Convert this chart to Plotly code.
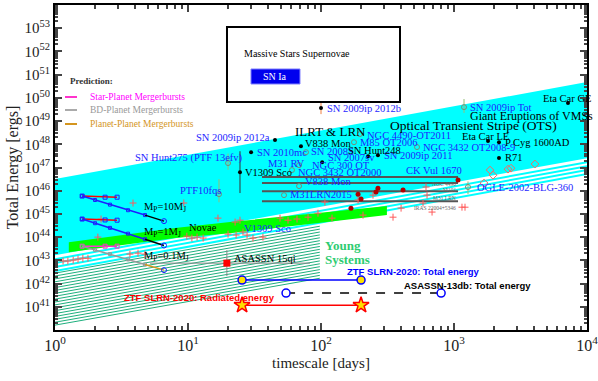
import numpy as np
import plotly.graph_objects as go

SERIF = "Liberation Serif"
SANS = "Liberation Sans"
BLUE = "#1e1eff"

# ---------------- data (timescale in days, energies as log10 erg) ----------------
x_decades = [0, 1, 2, 3, 4]
y_decades = list(range(40, 55))

# Optical Transient Stripe band
ots_t = [1, 1e4]
ots_top = [46.5, 50.68]
ots_bot = [43.22, 47.4]

# Young systems (hatched) region
young_t = [1, 98]
young_bot = [40.21, 42.23]
young_top = [42.45, 44.47]

# Novae band
novae_t = [1.27, 3.66, 7.99, 20.7, 69.5, 313]
novae_top = [43.78, 44.13, 44.39, 44.65, 44.95, 45.34]
novae_bot = [43.35, 43.70, 43.96, 44.17, 44.52, 44.95]

# mergerburst predictions
pred_t = [1.6, 2.0, 2.59, 3.54, 4.75, 6.6]
pred_10mj = [45.77, 45.60, 45.40, 45.16, 44.95, 44.69]
pred_1mj = [44.78, 44.60, 44.40, 44.15, 43.91, 43.64]
pred_01mj = [43.61, 43.45, 43.27, 43.04, 42.82, 42.58]
flat_t = [1.6, 2.38, 2.93]
flat_10mj = [45.77, 45.72, 45.72]
flat_1mj = [44.78, 44.74, 44.73]
flat_01mj = [43.61, 43.61, 43.61]

# ILRT/LRN duration bars
bar_t = [36, 1072]
bar_E = [46.59, 46.33, 45.98, 45.55]
bar_names = ["NGC 4490", "M101", "M31 LRN", "IRAS 22004+5346"]

# light red crosses
plus_t = [3.86, 9.3, 2.22, 16.8, 2.1, 10.7, 11.7, 13.0, 9.8, 20.0, 23.0, 1.15, 1.25, 1.37,
          1.49, 1.62, 1.77, 3.66, 4.21, 4.75, 25.9, 30.8, 36.6, 27.8, 49.2, 56.5, 66.0, 79.9,
          94.9, 107, 121, 190, 207, 246, 348, 400, 585, 627, 616, 1148, 1210, 684, 24.6, 22.6]
plus_E = [45.47, 45.47, 44.78, 44.82, 44.0, 43.96, 44.0, 43.96, 44.04, 44.13, 44.09, 42.97, 42.97, 43.01,
          43.05, 43.09, 43.09, 43.27, 43.31, 43.27, 44.22, 43.96, 44.0, 44.09, 44.82, 44.73, 44.78, 44.86,
          45.03, 45.51, 44.82, 45.60, 44.95, 45.81, 44.86, 45.25, 45.47, 45.81, 46.16, 45.29, 45.29, 45.08, 44.73, 44.65]

# open diamonds
diam_t = [1682, 1866, 1964, 2547, 2683, 4063]
diam_E = [46.33, 46.89, 46.67, 46.93, 46.97, 47.15]

# LRN peaks (dark red)
lrn_t = [168, 190, 200, 259, 268, 414, 1072]
lrn_E = [45.25, 45.85, 45.64, 45.94, 46.11, 46.03, 46.46]

# named events (black dots)
dot_t = [100, 7194, 45.1, 70.7, 29.8, 102, 226, 268, 24.6, 1802, 2179, 2179]
dot_E = [49.56, 49.78, 48.18, 47.92, 47.66, 47.23, 47.49, 47.53, 46.8, 48.14, 48.09, 47.41]

# named events (open circles)
circ_t = [1189, 196, 177, 77.1, 68.4, 60.5, 68.4, 52.7, 527, 17.1, 20.0, 1274]
circ_E = [49.60, 48.44, 48.09, 47.66, 47.10, 46.89, 46.20, 45.81, 47.88, 45.85, 47.19, 46.16]

# vertical error bars: t, low, high
err_t = [17.1, 20.0, 1274, 1189]
err_lo = [45.5, 46.9, 45.85, 49.35]
err_hi = [46.5, 47.6, 46.4, 49.95]

# ASASSN 15qi
q15_t = [19.6]
q15_E = [42.88]
q15_span = [5.18, 82.6]
q15_err = [42.32, 43.44]

# ZTF SLRN-2020 and ASASSN-13db
ztf_t = [25.5, 200]
ztf_total = [42.15, 42.15]
ztf_rad = [41.07, 41.07]
db13_t = [54.6, 800]
db13_total = [41.59, 41.59]

# text labels: text, log10 t, log10 E
labels_blue = [
    ("SN 2009ip 2012b", 2.030, 49.56), ("SN 2009ip Tot", 3.105, 49.60),
    ("NGC 4490-OT2011", 2.331, 48.40), ("M85 OT2006", 2.278, 48.09),
    ("SN 2008S", 1.910, 47.71), ("NGC 3432 OT2008-9", 2.752, 47.88),
    ("SN 2010mc", 1.504, 47.66), ("M31 RV", 1.586, 47.19),
    ("SN 2007sv", 2.038, 47.41), ("SN 2009ip 2011", 2.459, 47.53),
    ("NGC 300 OT", 1.917, 47.10), ("NGC 3432 OT2000", 1.812, 46.80),
    ("CK Vul 1670", 2.624, 46.89), ("V838 Mon", 1.865, 46.41),
    ("M31LRN2015", 1.752, 45.85), ("PTF10fqs", 0.925, 46.03),
    ("SN Hunt275 (PTF 13efv)", 0.586, 47.41), ("OGLE-2002-BLG-360", 3.158, 46.16),
    ("V1309 Sco", 1.406, 44.39),
]
labels_black = [
    ("Eta Car GE", 3.654, 49.99), ("V838 Mon", 1.865, 48.05),
    ("SN Hunt248", 2.188, 47.75), ("Eta Car LE", 3.045, 48.35),
    ("P Cyg 1600AD", 3.368, 48.09), ("R71", 3.368, 47.41),
    ("V1309 Sco", 1.414, 46.80), ("ASASSN 15qi", 1.331, 43.09),
    ("Novae", 0.992, 44.43),
    ("M<sub>P</sub>=10M<sub>J</sub>", 0.654, 45.29),
    ("M<sub>P</sub>=1M<sub>J</sub>", 0.654, 44.22),
    ("M<sub>P</sub>=0.1M<sub>J</sub>", 0.654, 43.18),
]


def E(v):
    return [10.0 ** a for a in v]


fig = go.Figure()


def line(x, y, color, width=1, dash=None, mode="lines", **kw):
    fig.add_trace(go.Scatter(x=x, y=y, mode=mode, line=dict(color=color, width=width, dash=dash),
                             hoverinfo="skip", showlegend=False, **kw))


# young systems hatch
n_hatch = 19
for k in range(n_hatch):
    f = k / (n_hatch - 1)
    yy = [b + f * (t - b) for b, t in zip(young_bot, young_top)]
    line(young_t, E(yy), "rgb(30,175,125)", 1)

# OTS band
fig.add_trace(go.Scatter(x=ots_t + ots_t[::-1], y=E(ots_top + ots_bot[::-1]), fill="toself",
                         fillcolor="#00ffff", line=dict(width=0), mode="lines",
                         hoverinfo="skip", showlegend=False))
for k in range(1, 5):
    line(ots_t, E([b - 0.17 * k for b in ots_bot]), "#00ffff", 2)

# novae band
fig.add_trace(go.Scatter(x=novae_t + novae_t[::-1], y=E(novae_top + novae_bot[::-1]), fill="toself",
                         fillcolor="#00ff00", line=dict(width=0), mode="lines",
                         hoverinfo="skip", showlegend=False))

# ILRT / LRN bars
for e in bar_E:
    line(bar_t, E([e, e]), "#555555", 2)
for name, e in zip(bar_names, bar_E):
    fig.add_annotation(x=np.log10(bar_t[1]), y=e - 0.08, text=name, showarrow=False, xanchor="right",
                       yanchor="top", font=dict(family=SERIF, size=5.5, color="#666666"))

# error bars
for t, lo, hi in zip(err_t, err_lo, err_hi):
    line([t, t], E([lo, hi]), "rgb(150,190,120)", 1)
line([24.6, 24.6], E([45.9, 47.7]), "#333333", 1)
line([100, 100], E([49.3, 49.9]), "#f08040", 1)

# markers
fig.add_trace(go.Scatter(x=plus_t, y=E(plus_E), mode="markers", hoverinfo="skip", showlegend=False,
                         marker=dict(symbol="cross-thin", size=5, line=dict(color="rgb(255,90,90)", width=1))))
fig.add_trace(go.Scatter(x=diam_t, y=E(diam_E), mode="markers", hoverinfo="skip", showlegend=False,
                         marker=dict(symbol="diamond-open", size=6, color="rgb(240,110,100)")))
fig.add_trace(go.Scatter(x=lrn_t, y=E(lrn_E), mode="markers", hoverinfo="skip", showlegend=False,
                         marker=dict(symbol="circle", size=5, color="#b00000")))
fig.add_trace(go.Scatter(x=circ_t, y=E(circ_E), mode="markers", hoverinfo="skip", showlegend=False,
                         marker=dict(symbol="circle-open", size=5, color="rgb(120,140,120)")))
fig.add_trace(go.Scatter(x=dot_t, y=E(dot_E), mode="markers", hoverinfo="skip", showlegend=False,
                         marker=dict(symbol="circle", size=4, color="black")))

# mergerburst predictions
line(flat_t, E(flat_10mj), "red", 1.5, mode="lines+markers",
     marker=dict(symbol="square-open", size=4, color=BLUE))
line(flat_t, E(flat_1mj), "red", 1.5, mode="lines+markers",
     marker=dict(symbol="square-open", size=4, color=BLUE))
line(flat_t, E(flat_01mj), "#ff33cc", 1.5, mode="lines+markers",
     marker=dict(symbol="square-open", size=4, color="#ff33cc"))
for track, c1, c2 in [(pred_10mj, "#1e1eff", "black"), (pred_1mj, "#1e1eff", "black"),
                      (pred_01mj, "#999999", "#d4951e")]:
    line(pred_t[:5], E(track[:5]), c1, 1.5, mode="lines+markers",
         marker=dict(symbol="square-open", size=3, color=c1))
    line(pred_t[4:], E(track[4:]), c2, 1.5)
    fig.add_trace(go.Scatter(x=pred_t[-1:], y=E(track[-1:]), mode="markers", hoverinfo="skip",
                             showlegend=False, marker=dict(symbol="circle-open", size=5, color=BLUE)))

# ASASSN 15qi
line(q15_span, E(q15_E * 2), "#888888", 1)
line(q15_t * 2, E(q15_err), "#888888", 1)
fig.add_trace(go.Scatter(x=q15_t, y=E(q15_E), mode="markers", hoverinfo="skip", showlegend=False,
                         marker=dict(symbol="square", size=7, color="red")))

# ZTF SLRN-2020 / ASASSN-13db
line(ztf_t, E(ztf_total), "blue", 1.5, mode="lines+markers",
     marker=dict(symbol="circle", size=8, color="#ffe000", line=dict(color="blue", width=1.5)))
line(db13_t, E(db13_total), "black", 1.5, dash="dash", mode="lines+markers",
     marker=dict(symbol="circle", size=8, color="white", line=dict(color="blue", width=1.5)))
line(ztf_t, E(ztf_rad), "red", 1.5, mode="lines+markers",
     marker=dict(symbol="star", size=12, color="#ffe000", line=dict(color="red", width=1.5)))


def label(text, lx, ly, color, size=10.5, anchor="left", family=SERIF):
    fig.add_annotation(x=lx, y=ly, text=text, showarrow=False, xanchor=anchor, yanchor="middle",
                       font=dict(family=family, size=size, color=color))


for text, lx, ly in labels_blue:
    label(text, lx, ly, BLUE)
label("SN 2009ip 2012a", 1.632, 48.31, BLUE, anchor="right")
for text, lx, ly in labels_black:
    label(text, lx, ly, "black")
label("Optical Transient Stripe (OTS)", 2.504, 48.83, "black", 13.5)
label("Giant Eruptions of VMSs", 3.105, 49.22, "black", 12)
label("ILRT &amp; LRN", 1.789, 48.53, "black", 13)
label("<b>Young</b>", 2.015, 43.66, "rgb(46,204,113)", 13)
label("<b>Systems</b>", 2.015, 43.05, "rgb(46,204,113)", 13)
label("<b>ZTF SLRN-2020: Total energy</b>", 2.18, 42.53, "blue", 9.5, family=SANS)
label("<b>ASASSN-13db: Total energy</b>", 2.609, 41.93, "black", 9.5, family=SANS)
label("<b>ZTF SLRN-2020: Radiated energy</b>", 0.504, 41.41, "red", 9.5, family=SANS)

# legend-like boxes (paper coordinates)
shapes = [
    dict(type="rect", xref="paper", yref="paper", x0=0.3233, x1=0.6485, y0=0.7015, y1=0.9323,
         line=dict(color="black", width=2), fillcolor="white"),
    dict(type="rect", xref="paper", yref="paper", x0=0.3684, x1=0.4605, y0=0.7569, y1=0.8031,
         line=dict(color="#8080ff", width=1), fillcolor="#0000ee"),
]
for y, c in [(0.7169, "#ff33cc"), (0.6769, "#aaaaaa"), (0.6338, "#d4951e")]:
    shapes.append(dict(type="line", xref="paper", yref="paper", x0=0.0188, x1=0.0414, y0=y, y1=y,
                       line=dict(color=c, width=2)))
fig.update_layout(shapes=shapes)


def plabel(text, x, y, color, size=9.5, anchor="left"):
    fig.add_annotation(x=x, y=y, xref="paper", yref="paper", text=text, showarrow=False,
                       xanchor=anchor, yanchor="middle", font=dict(family=SERIF, size=size, color=color))


plabel("Massive Stars Supernovae", 0.3515, 0.8523, "black", 10)
plabel("SN Ia", 0.4135, 0.7785, "white", 10, "center")
plabel("<b>Prediction:</b>", 0.0244, 0.7662, "#333333", 9)
plabel("Star-Planet Mergerbursts", 0.062, 0.7169, "#ff00ff")
plabel("BD-Planet Mergerbursts", 0.062, 0.6769, "#999999")
plabel("Planet-Planet Mergerbursts", 0.062, 0.6338, "#d4951e")

x_minor = [m * 10.0 ** d for d in x_decades[:-1] for m in range(2, 10)]
y_minor = [m * 10.0 ** d for d in y_decades[:-1] for m in range(2, 10)]

fig.update_xaxes(type="log", range=[0, 4], tickmode="array",
                 tickvals=[10.0 ** d for d in x_decades],
                 ticktext=[f"10<sup>{d}</sup>" for d in x_decades],
                 automargin=False, ticklabeloverflow="allow",
                 ticks="inside", ticklen=7, tickwidth=1.5, showline=True, linecolor="black",
                 linewidth=2, mirror="allticks", showgrid=False, zeroline=False,
                 minor=dict(tickvals=x_minor, ticks="inside", ticklen=4, showgrid=False),
                 tickfont=dict(family=SERIF, size=16, color="#222"),
                 title=dict(text="timescale [days]", font=dict(family=SERIF, size=15, color="#222"),
                            standoff=4))
fig.update_yaxes(type="log", range=[40, 54], tickmode="array",
                 tickvals=[10.0 ** d for d in y_decades[1:-1]],
                 ticktext=[f"10<sup>{d}</sup>" for d in y_decades[1:-1]],
                 automargin=False,
                 ticks="inside", ticklen=7, tickwidth=1.5, showline=True, linecolor="black",
                 linewidth=2, mirror="allticks", showgrid=False, zeroline=False,
                 minor=dict(tickvals=y_minor, ticks="inside", ticklen=3, showgrid=False),
                 tickfont=dict(family=SERIF, size=15, color="#222"),
                 title=dict(text="Total Energy [ergs]", font=dict(family=SERIF, size=16, color="#222"),
                            standoff=2))

fig.update_layout(width=598, height=381, margin=dict(l=55, r=11, t=5, b=51),
                  plot_bgcolor="white", paper_bgcolor="white", showlegend=False)

fig.write_html("out.html", config={"displayModeBar": False},
               post_script="document.body.style.margin='0px';")
